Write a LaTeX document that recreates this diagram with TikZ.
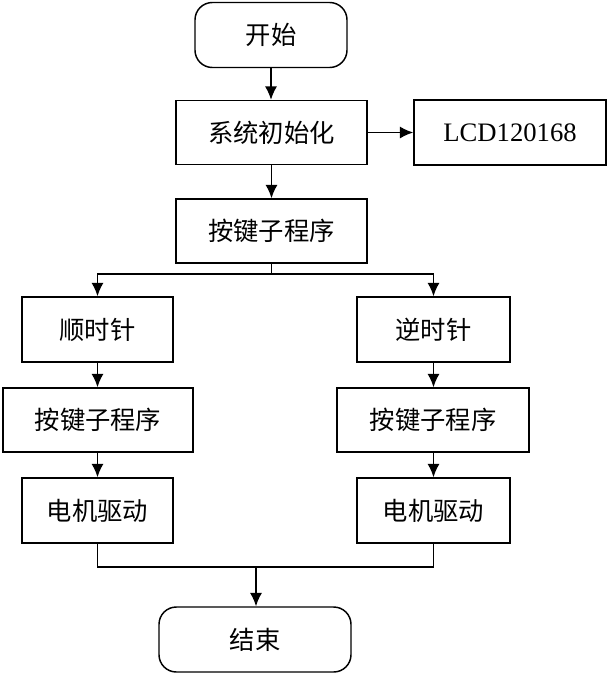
\documentclass[tikz,border=0pt]{standalone}
\usepackage{fontspec}
\setmainfont{Liberation Serif}
\newfontfamily\cjk{Noto Sans CJK SC}
\usetikzlibrary{arrows.meta}
\tikzset{
  bx/.style 2 args={draw, line width=1.1pt, inner sep=0pt,
    minimum width={0.75pt*#1}, minimum height={0.75pt*#2},
    font=\cjk\fontsize{19pt}{22pt}\selectfont},
  rbx/.style 2 args={bx={#1}{#2}, rounded corners=13pt},
  arr/.style={line width=1.1pt, -{Latex[length=10pt,width=9pt]}},
  ln/.style={line width=1.1pt}
}
\begin{document}
\begin{tikzpicture}[x=0.75pt,y=-0.75pt]
\useasboundingbox (0,0) rectangle (607,675);
\node[rbx={152}{65}] (start) at (271,35) {开始};
\node[bx={191}{64}] (init) at (271.5,132.5) {系统初始化};
\node[bx={192}{65}, font=\fontsize{20pt}{24pt}\selectfont] (lcd) at (510,132.5) {LCD120168};
\node[bx={191}{64}] (key0) at (271.5,231) {按键子程序};
\node[bx={151}{65}] (cw) at (97.5,329.5) {顺时针};
\node[bx={153}{65}] (ccw) at (433.5,329.5) {逆时针};
\node[bx={190}{64}] (keyL) at (98,420) {按键子程序};
\node[bx={192}{64}] (keyR) at (433,420) {按键子程序};
\node[bx={151}{65}] (motL) at (97.5,510.5) {电机驱动};
\node[bx={153}{65}] (motR) at (433.5,510.5) {电机驱动};
\node[rbx={192}{65}] (end) at (255,639.5) {结束};
\coordinate (br) at (271.5,274);
\coordinate (mg) at (256,567);
\draw[arr] (start.south) -- (start.south |- init.north);
\draw[arr] (init.east) -- (init.east -| lcd.west);
\draw[arr] (init.south) -- (init.south |- key0.north);
\draw[ln] (key0.south) -- (br);
\draw[arr] (br) -| (cw.north);
\draw[arr] (br) -| (ccw.north);
\draw[arr] (cw.south) -- (cw.south |- keyL.north);
\draw[arr] (ccw.south) -- (ccw.south |- keyR.north);
\draw[arr] (keyL.south -| cw.south) -- (cw.south |- motL.north);
\draw[arr] (keyR.south -| ccw.south) -- (ccw.south |- motR.north);
\draw[ln] (motL.south) |- (mg);
\draw[ln] (motR.south) |- (mg);
\draw[arr] (mg) -- (mg |- end.north);
\end{tikzpicture}
\end{document}
